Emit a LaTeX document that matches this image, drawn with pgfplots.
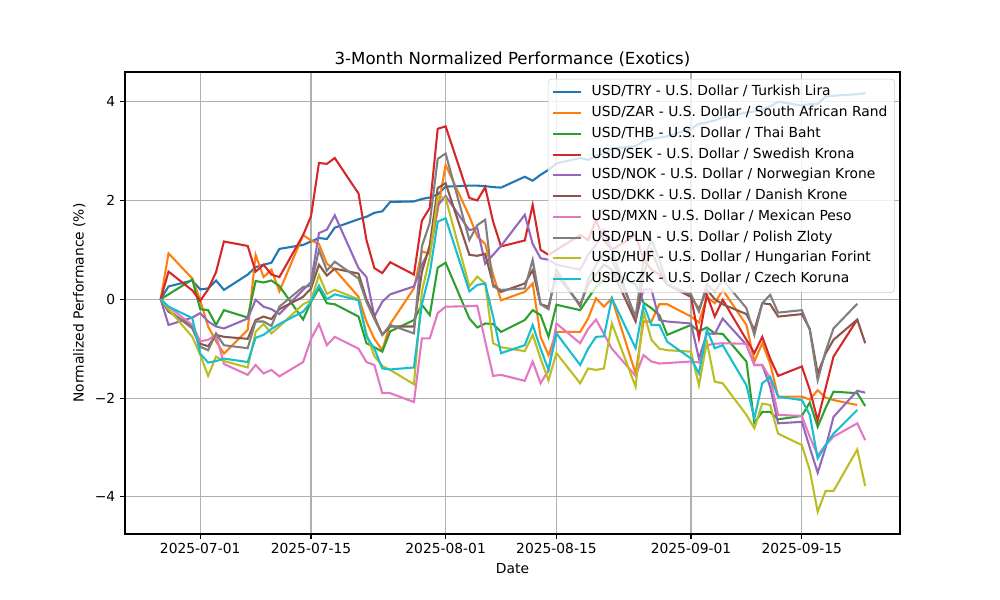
\documentclass[border=0pt]{standalone}
\usepackage{fontspec}
\setmainfont{DejaVu Sans}
\usepackage{pgfplots}
\usepackage{pgfplotstable}
\pgfplotsset{compat=1.18}

\definecolor{c0}{HTML}{1F77B4}
\definecolor{c1}{HTML}{FF7F0E}
\definecolor{c2}{HTML}{2CA02C}
\definecolor{c3}{HTML}{D62728}
\definecolor{c4}{HTML}{9467BD}
\definecolor{c5}{HTML}{8C564B}
\definecolor{c6}{HTML}{E377C2}
\definecolor{c7}{HTML}{7F7F7F}
\definecolor{c8}{HTML}{BCBD22}
\definecolor{c9}{HTML}{17BECF}

% d = days since 2025-07-01
\pgfplotstableread{
d TRY ZAR THB SEK NOK DKK MXN PLN HUF CZK
-5 0 0 0 0 0 0 0 0 0 0
-4 0.26 0.93 0.10 0.56 -0.52 -0.25 -0.15 -0.22 -0.20 -0.15
-1 0.38 0.42 0.40 0.18 -0.37 -0.55 -0.52 -0.59 -0.76 -0.38
0 0.20 -0.02 -0.20 -0.03 -0.28 -0.90 -0.85 -0.96 -1.12 -1.10
1 0.22 -0.55 -0.22 0.20 -0.45 -0.95 -0.82 -1.03 -1.55 -1.28
2 0.38 -0.85 -0.52 0.55 -0.55 -0.72 -0.72 -0.69 -1.16 -1.25
3 0.19 -1.10 -0.22 1.17 -0.59 -0.76 -1.31 -0.93 -1.25 -1.20
6 0.50 -0.62 -0.37 1.08 -0.39 -0.80 -1.53 -0.99 -1.38 -1.27
7 0.65 0.90 0.37 0.56 -0.01 -0.42 -1.33 -0.45 -0.66 -0.78
8 0.70 0.45 0.34 0.70 -0.15 -0.35 -1.50 -0.45 -0.50 -0.72
9 0.74 0.60 0.38 0.50 -0.20 -0.40 -1.43 -0.54 -0.69 -0.60
10 1.02 0.16 0.27 0.45 -0.30 -0.20 -1.56 -0.15 -0.55 -0.50
13 1.10 1.30 -0.41 1.30 0.19 0.05 -1.27 0.25 -0.10 -0.25
14 1.17 1.19 -0.05 1.68 0.35 0.22 -0.80 0.27 -0.02 -0.05
15 1.24 1.12 0.22 2.76 1.34 0.70 -0.50 1.00 0.49 0.28
16 1.22 0.72 -0.08 2.74 1.41 0.48 -0.93 0.58 0.11 0.00
17 1.45 0.60 -0.10 2.86 1.70 0.62 -0.76 0.76 0.19 0.10
20 1.62 0.05 -0.35 2.14 0.63 0.52 -1.00 0.42 0.00 -0.02
21 1.67 -0.45 -0.89 1.20 0.45 0.00 -1.27 -0.05 -0.70 -0.75
22 1.75 -0.80 -0.97 0.63 -0.35 -0.35 -1.33 -0.40 -1.15 -1.00
23 1.78 -1.03 -1.06 0.53 -0.05 -0.72 -1.90 -0.72 -1.35 -1.40
24 1.97 -0.50 -0.65 0.75 0.10 -0.55 -1.90 -0.52 -1.43 -1.42
27 1.98 0.22 -0.42 0.50 0.26 -0.55 -2.08 -0.69 -1.72 -1.38
28 2.03 0.97 -0.11 1.59 0.70 0.55 -0.79 1.07 0.15 -0.10
29 2.06 0.92 -0.32 1.85 1.00 1.10 -0.79 1.55 0.86 0.53
30 2.12 1.80 0.64 3.45 1.90 2.25 -0.28 2.84 2.08 1.57
31 2.28 2.72 0.74 3.50 2.09 2.35 -0.15 2.95 2.05 1.64
34 2.30 1.68 -0.39 2.05 1.40 0.90 -0.14 1.20 0.26 0.16
35 2.30 1.27 -0.57 2.00 1.44 0.88 -0.13 1.50 0.46 0.29
36 2.29 1.12 -0.49 2.27 0.72 0.92 -0.85 1.61 0.32 0.32
37 2.27 0.50 -0.50 1.57 0.90 0.30 -1.55 0.26 -0.89 -0.35
38 2.26 -0.02 -0.66 1.07 1.08 0.15 -1.53 0.19 -0.97 -1.09
41 2.48 0.15 -0.42 1.19 1.71 0.32 -1.65 0.22 -1.05 -0.93
42 2.40 0.32 -0.22 1.91 1.12 0.59 -1.26 0.80 -0.72 -0.52
43 2.52 -0.76 -0.32 1.00 0.83 -0.10 -1.70 -0.10 -1.20 -1.00
44 2.62 -1.13 -0.76 0.90 0.80 -0.15 -1.43 -0.20 -1.64 -1.43
45 2.75 -0.66 -0.11 1.00 0.70 0.50 -0.49 0.60 -1.09 -0.69
48 2.86 -0.66 -0.22 1.30 0.60 -0.11 -0.89 -0.15 -1.70 -1.33
49 2.82 -0.39 0.02 1.20 0.90 0.30 -0.60 0.40 -1.40 -1.00
50 2.90 0.02 0.25 1.60 1.10 0.50 -0.41 0.70 -1.43 -0.76
51 2.95 -0.15 0.40 1.20 1.40 0.70 -0.70 0.90 -1.40 -0.75
52 3.05 0.02 0.55 1.00 1.00 0.60 -1.00 0.80 -0.49 0.02
55 3.10 -1.50 0.30 1.30 -0.42 -0.45 -1.55 -0.35 -1.77 -0.99
56 3.20 -0.45 -0.07 0.80 0.20 0.50 -1.13 0.80 -0.25 -0.11
57 3.25 -0.45 -0.18 0.60 0.20 1.00 -1.26 1.20 -0.82 -0.52
58 3.27 -0.10 -0.32 0.50 -0.42 0.60 -1.30 0.80 -1.00 -0.52
59 3.30 -0.10 -0.72 0.30 -0.45 0.30 -1.29 0.30 -1.03 -0.86
62 3.45 -0.35 -0.52 0.05 -0.49 0.05 -1.26 0.10 -1.06 -1.20
63 3.55 -0.47 -0.65 -0.79 -1.20 -0.20 -1.28 -0.25 -1.74 -1.50
64 3.58 0.05 -0.57 0.09 -0.69 0.20 -0.93 0.30 -0.86 -0.62
65 3.62 -0.08 -0.69 -0.35 -0.70 0.00 -0.90 0.15 -1.67 -0.99
66 3.68 0.19 -0.70 -0.01 -0.39 -0.10 -0.89 0.40 -1.70 -0.93
69 3.78 -0.52 -1.26 -0.82 -0.92 -0.30 -0.90 -0.18 -2.34 -1.74
70 3.80 -1.26 -2.50 -1.09 -1.33 -0.62 -1.33 -0.72 -2.61 -2.41
71 3.85 -0.89 -2.28 -0.76 -1.33 -0.08 -1.33 -0.08 -2.11 -1.70
72 3.90 -1.30 -2.28 -1.20 -1.77 -0.10 -1.60 0.09 -2.14 -1.57
73 4.00 -1.97 -2.43 -1.55 -2.51 -0.35 -2.34 -0.27 -2.72 -1.97
76 3.92 -1.97 -2.36 -1.36 -2.48 -0.30 -2.36 -0.22 -2.95 -2.04
77 3.95 -2.03 -2.09 -1.83 -3.00 -0.60 -2.78 -0.62 -3.46 -2.34
78 3.95 -1.84 -2.58 -2.45 -3.51 -1.50 -3.16 -1.64 -4.30 -3.22
79 4.10 -1.99 -2.20 -1.80 -3.00 -1.10 -2.95 -1.05 -3.88 -2.95
80 4.12 -2.04 -1.87 -1.16 -2.38 -0.82 -2.78 -0.59 -3.88 -2.72
83 4.15 -2.14 -1.90 -0.41 -1.85 -0.41 -2.51 -0.09 -3.04 -2.24
84 4.17 nan -2.16 nan -1.89 -0.89 -2.85 nan -3.78 nan
}\perf

\begin{document}
\begin{tikzpicture}
\useasboundingbox (0,0) rectangle (10in,6in);
\begin{axis}[
    at={(1.25in,0.66in)}, anchor=south west,
    scale only axis, width=7.75in, height=4.62in,
    xmin=-9.5, xmax=88.4, ymin=-4.75, ymax=4.6,
    xtick={0,14,31,45,62,76},
    xticklabels={2025-07-01,2025-07-15,2025-08-01,2025-08-15,2025-09-01,2025-09-15},
    ytick={-4,-2,0,2,4},
    yticklabels={−4,−2,0,2,4},
    tick pos=left, tick align=outside, major tick length=3.5pt,
    every tick/.style={black, line width=0.8pt},
    axis line style={line width=0.8pt},
    grid=major, major grid style={color=black!31, line width=0.8pt},
    ticklabel style={font=\fontsize{10}{12}\selectfont},
    title={3-Month Normalized Performance (Exotics)},
    title style={font=\fontsize{12}{14}\selectfont, yshift=-6pt},
    xlabel={Date}, ylabel={Normalized Performance (\%)},
    label style={font=\fontsize{10}{12}\selectfont},
    legend style={at={(0.993,0.985)}, anchor=north east,
        font=\fontsize{10}{12}\selectfont, draw=black!20, rounded corners=2pt,
        fill=white, fill opacity=0.8, text opacity=1, cells={anchor=west},
        nodes={inner ysep=2.5pt, text height=7.6pt, text depth=2.4pt},
        column sep=5pt, row sep=0pt},
    legend image code/.code={\draw[#1] (0cm,0cm) -- (0.7cm,0cm);},
    every axis plot/.append style={line width=1.5pt},
]
\addplot[c0] table[x=d,y=TRY]{\perf};
\addplot[c1] table[x=d,y=ZAR]{\perf};
\addplot[c2] table[x=d,y=THB]{\perf};
\addplot[c3] table[x=d,y=SEK]{\perf};
\addplot[c4] table[x=d,y=NOK]{\perf};
\addplot[c5] table[x=d,y=DKK]{\perf};
\addplot[c6] table[x=d,y=MXN]{\perf};
\addplot[c7] table[x=d,y=PLN]{\perf};
\addplot[c8] table[x=d,y=HUF]{\perf};
\addplot[c9] table[x=d,y=CZK]{\perf};
\legend{USD/TRY - U.S. Dollar / Turkish Lira,
USD/ZAR - U.S. Dollar / South African Rand,
USD/THB - U.S. Dollar / Thai Baht,
USD/SEK - U.S. Dollar / Swedish Krona,
USD/NOK - U.S. Dollar / Norwegian Krone,
USD/DKK - U.S. Dollar / Danish Krone,
USD/MXN - U.S. Dollar / Mexican Peso,
USD/PLN - U.S. Dollar / Polish Zloty,
USD/HUF - U.S. Dollar / Hungarian Forint,
USD/CZK - U.S. Dollar / Czech Koruna}
\end{axis}
\end{tikzpicture}
\end{document}
